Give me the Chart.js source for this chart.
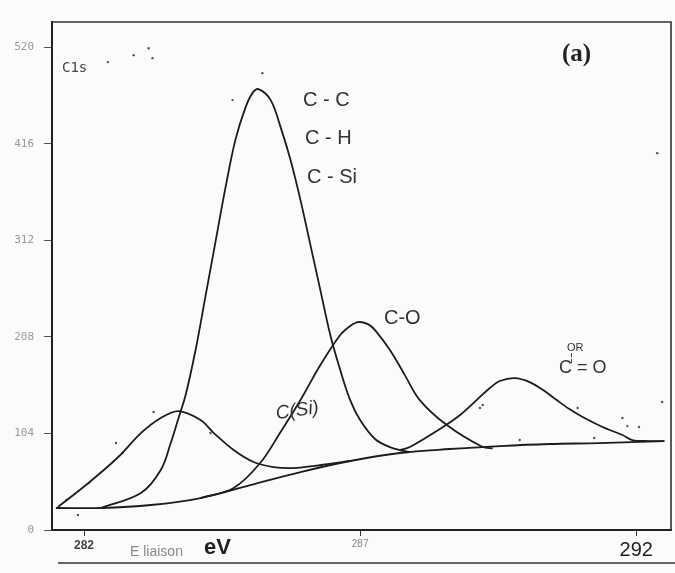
<!DOCTYPE html>
<html lang="fr">
<head>
<meta charset="UTF-8">
<title>C1s (a)</title>
<script src="https://cdn.jsdelivr.net/npm/chart.js"></script>
<style>
    body { margin: 0; background: #fbfbfb; }
    #boite { width: 675px; height: 573px; position: relative; }
</style>
</head>
<body>
<div id="boite"><canvas id="graphe"></canvas></div>
<script>
    // graduations
    const ticksX = [282, 287, 292];
    const ticksY = [0, 104, 208, 312, 416, 520];

    // ligne de base
    const baseE = [281.49, 282.31, 283.21, 284.11, 285.01, 285.92, 286.82, 287.72, 288.62, 289.53, 290.43, 291.33, 292.51];
    const baseV = [23.7, 23.7, 26.9, 34.4, 48.4, 62.4, 74.3, 82.9, 87.2, 90.4, 92.6, 93.6, 95.8];

    // composante C(Si)
    const csiE = [281.53, 282.08, 282.62, 283.03, 283.39, 283.71, 284.11, 284.35, 284.71, 285.07, 285.43, 285.79, 286.30, 286.82];
    const csiV = [24.8, 50.6, 78.6, 104.4, 120.6, 128.0, 118.4, 104.4, 86.1, 73.2, 67.8, 66.7, 70.0, 74.3];

    // composante C-C / C-H / C-Si
    const ccE = [282.31, 283.03, 283.39, 283.57, 283.70, 283.84, 284.02, 284.20, 284.38, 284.56, 284.74, 284.92, 285.05, 285.16,
                 285.38, 285.56, 285.74, 285.92, 286.10, 286.28, 286.46, 286.64, 286.82, 287.00, 287.27, 287.54, 287.72, 287.90];
    const ccV = [23.7, 39.8, 64.6, 93.6, 118.4, 145.3, 193.8, 251.9, 310.0, 368.1, 419.8, 454.3, 470.4, 474.7,
                 462.9, 433.8, 398.3, 355.2, 306.8, 258.3, 209.9, 172.2, 139.9, 118.4, 98.0, 89.3, 86.1, 83.9];

    // composante C-O
    const coE = [284.11, 284.71, 285.19, 285.56, 285.92, 286.28, 286.64, 286.82, 286.96, 287.14, 287.27, 287.54, 287.81, 288.08, 288.57, 289.22, 289.40];
    const coV = [34.4, 45.2, 72.1, 105.5, 139.9, 177.6, 209.9, 219.6, 223.9, 221.7, 215.3, 193.8, 166.8, 139.9, 113.0, 89.3, 88.0];

    // composante C=O
    const c2oE = [287.72, 287.90, 288.50, 288.81, 289.11, 289.35, 289.53, 289.80, 290.07, 290.34, 290.56, 290.79, 291.03, 291.39, 291.75, 291.93, 292.23, 292.51];
    const c2oV = [86.1, 89.3, 110.9, 123.8, 139.9, 152.9, 160.4, 163.6, 159.3, 149.6, 139.9, 130.2, 121.6, 110.9, 102.3, 96.9, 95.8, 95.8];

    // points experimentaux epars
    const ptsE = [281.68, 281.89, 282.09, 282.58, 282.70, 283.26, 284.29, 284.69, 285.23, 289.17, 289.22, 289.89, 290.94, 291.24, 291.75, 291.84, 292.05, 292.47, 292.38, 282.43, 282.90, 283.17, 283.24];
    const ptsV = [32.3, 16.1, 50.6, 93.6, 82.9, 127.0, 104.4, 462.9, 491.9, 131.3, 134.6, 96.9, 131.3, 99.0, 120.6, 111.9, 110.9, 137.8, 405.8, 503.8, 511.3, 518.8, 508.1];

    const paires = (e, v) => e.map((x, i) => ({ x: x, y: v[i] }));

    function courbe(e, v) {
        return {
            data: paires(e, v),
            borderColor: '#1c1c1c',
            borderWidth: 1.8,
            pointRadius: 0,
            fill: false,
            tension: 0.35
        };
    }

    // valeur de la graduation dans un contexte scriptable
    const valTick = c => (c && c.tick) ? c.tick.value : null;

    // cadre, textes et annotations manuscrites
    const decor = {
        id: 'decor',
        afterDraw(chart) {
            const ctx = chart.ctx;
            const a = chart.chartArea;
            ctx.save();
            ctx.strokeStyle = '#333';
            ctx.lineWidth = 1.6;
            ctx.beginPath();
            ctx.moveTo(a.left, a.top);
            ctx.lineTo(a.right, a.top);
            ctx.lineTo(a.right, a.bottom);
            ctx.stroke();
            ctx.lineWidth = 1.3;
            ctx.beginPath();
            ctx.moveTo(58, 563);
            ctx.lineTo(675, 563);
            ctx.stroke();

            ctx.fillStyle = '#444';
            ctx.textBaseline = 'middle';
            ctx.font = '14px "DejaVu Sans Mono"';
            ctx.fillText('C1s', 62, 68);

            ctx.fillStyle = '#222';
            ctx.font = 'bold 25px "Liberation Serif"';
            ctx.fillText('(a)', 562, 55);

            ctx.fillStyle = '#333';
            ctx.font = '20px "Liberation Sans"';
            ctx.fillText('C - C', 303, 100);
            ctx.fillText('C - H', 305, 138);
            ctx.fillText('C - Si', 307, 177);
            ctx.fillText('C-O', 384, 318);
            ctx.font = '18px "Liberation Sans"';
            ctx.fillText('C = O', 559, 368);
            ctx.font = '11px "Liberation Sans"';
            ctx.fillText('OR', 567, 348);
            ctx.fillText('¦', 570, 358);

            ctx.save();
            ctx.translate(276, 414);
            ctx.rotate(-0.15);
            ctx.font = 'italic 19px "Liberation Sans"';
            ctx.fillText('C(Si)', 0, 0);
            ctx.restore();

            ctx.fillStyle = '#888';
            ctx.font = '14px "Liberation Sans"';
            ctx.fillText('E liaison', 130, 552);
            ctx.fillStyle = '#222';
            ctx.font = 'bold 22px "Liberation Sans"';
            ctx.fillText('eV', 204, 548);
            ctx.restore();
        }
    };

    new Chart(document.getElementById('graphe'), {
        type: 'line',
        data: {
            datasets: [
                courbe(baseE, baseV),
                courbe(csiE, csiV),
                courbe(ccE, ccV),
                courbe(coE, coV),
                courbe(c2oE, c2oV),
                {
                    type: 'scatter',
                    data: paires(ptsE, ptsV),
                    pointRadius: 1.2,
                    pointBackgroundColor: '#555',
                    pointBorderWidth: 0
                }
            ]
        },
        options: {
            responsive: true,
            maintainAspectRatio: false,
            animation: false,
            layout: { padding: { top: 22, right: 3, left: 0, bottom: 0 } },
            plugins: { legend: { display: false }, tooltip: { enabled: false } },
            scales: {
                x: {
                    type: 'linear',
                    min: 281.42,
                    max: 292.63,
                    afterBuildTicks: s => { s.ticks = ticksX.map(v => ({ value: v })); },
                    afterFit: s => { s.height = 43; },
                    grid: { drawOnChartArea: false, tickLength: 6, color: '#333' },
                    border: { display: true, color: '#222', width: 2 },
                    ticks: {
                        padding: 2,
                        color: c => valTick(c) === 292 ? '#222' : (valTick(c) === 287 ? '#888' : '#444'),
                        font: c => ({
                            family: '"Liberation Sans"',
                            size: valTick(c) === 292 ? 20 : (valTick(c) === 287 ? 10 : 12),
                            weight: valTick(c) === 282 ? 'bold' : 'normal'
                        })
                    }
                },
                y: {
                    min: 0,
                    max: 547,
                    afterBuildTicks: s => { s.ticks = ticksY.map(v => ({ value: v })); },
                    afterFit: s => { s.width = 52; },
                    grid: { drawOnChartArea: false, tickLength: 8, color: '#555' },
                    border: { display: true, color: '#222', width: 2 },
                    ticks: {
                        padding: 10,
                        color: '#999',
                        font: { family: '"DejaVu Sans Mono"', size: 11 }
                    }
                }
            }
        },
        plugins: [decor]
    });
</script>
</body>
</html>
